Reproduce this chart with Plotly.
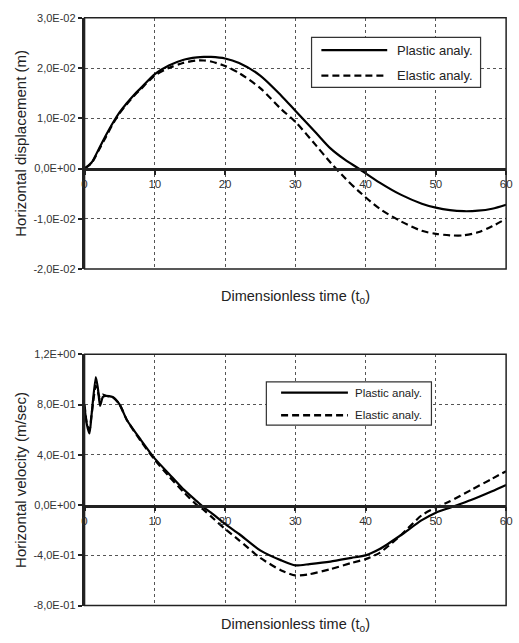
import plotly.graph_objects as go

# ---------------- data ----------------
t_disp = [0, 1, 2, 3, 4, 5, 6, 7, 8, 10, 12, 14, 16, 17, 18, 20, 22, 25, 28, 30,
          33, 35, 37, 39, 42, 45, 48, 50, 52, 54, 56, 58, 60]
disp_plastic = [0, 0.12, 0.38, 0.65, 0.9, 1.12, 1.3, 1.46, 1.6, 1.88, 2.05, 2.16, 2.21, 2.22,
                2.22, 2.19, 2.1, 1.85, 1.45, 1.15, 0.7, 0.4, 0.18, 0.0, -0.28, -0.52, -0.7,
                -0.78, -0.83, -0.85, -0.84, -0.8, -0.72]
disp_elastic = [0, 0.11, 0.36, 0.62, 0.88, 1.1, 1.28, 1.44, 1.58, 1.85, 2.0, 2.1, 2.15, 2.15,
                2.13, 2.04, 1.9, 1.6, 1.18, 0.93, 0.45, 0.12, -0.18, -0.45, -0.8, -1.05, -1.24,
                -1.3, -1.33, -1.33, -1.27, -1.15, -1.0]
disp_plastic = [v * 1e-2 for v in disp_plastic]
disp_elastic = [v * 1e-2 for v in disp_elastic]

t_vel = [0, 0.3, 0.7, 1.0, 1.6, 1.9, 2.2, 2.6, 3, 4, 5, 6, 8, 10, 12, 14, 16, 17, 18, 20,
         22, 25, 28, 30, 32, 35, 38, 40, 42, 45, 48, 50, 52, 55, 58, 60]
vel_plastic = [0.78, 0.65, 0.57, 0.72, 1.02, 0.93, 0.79, 0.86, 0.87, 0.86, 0.80, 0.68, 0.52,
               0.37, 0.25, 0.13, 0.03, -0.02, -0.06, -0.15, -0.23, -0.36, -0.44, -0.48, -0.47,
               -0.45, -0.42, -0.40, -0.35, -0.24, -0.12, -0.06, -0.02, 0.04, 0.11, 0.16]
vel_elastic = [0.80, 0.66, 0.60, 0.72, 0.95, 0.90, 0.85, 0.88, 0.87, 0.86, 0.80, 0.68, 0.51,
               0.36, 0.23, 0.11, 0.0, -0.04, -0.09, -0.19, -0.28, -0.42, -0.52, -0.56, -0.55,
               -0.51, -0.46, -0.43, -0.38, -0.24, -0.08, -0.02, 0.03, 0.12, 0.21, 0.27]

x_ticks = [0, 10, 20, 30, 40, 50, 60]
disp_ticks = [-0.02, -0.01, 0.0, 0.01, 0.02, 0.03]
disp_ticktext = ["-2,0E-02", "-1,0E-02", "0,0E+00", "1,0E-02", "2,0E-02", "3,0E-02"]
vel_ticks = [-0.8, -0.4, 0.0, 0.4, 0.8, 1.2]
vel_ticktext = ["-8,0E-01", "-4,0E-01", "0,0E+00", "4,0E-01", "8,0E-01", "1,2E+00"]

series_names = ["Plastic analy.", "Elastic analy."]
x_title = "Dimensionless time (t<sub>o</sub>)"
y_titles = ["Horizontal displacement (m)", "Horizontal velocity (m/sec)"]

# ---------------- figure ----------------
W, H = 519, 643
FONT = "Liberation Sans, Arial, sans-serif"
DASH = "7px,4px"
LW = 2.2


def px_x(p):
    return p / W


def px_y(p):
    return 1 - p / H


fig = go.Figure()

fig.add_trace(go.Scatter(x=t_disp, y=disp_plastic, name=series_names[0], mode="lines",
                         line=dict(color="black", width=LW, shape="spline", smoothing=0.8),
                         xaxis="x", yaxis="y", showlegend=False))
fig.add_trace(go.Scatter(x=t_disp, y=disp_elastic, name=series_names[1], mode="lines",
                         line=dict(color="black", width=LW, dash=DASH, shape="spline", smoothing=0.8),
                         xaxis="x", yaxis="y", showlegend=False))
fig.add_trace(go.Scatter(x=t_vel, y=vel_plastic, name=series_names[0], mode="lines",
                         line=dict(color="black", width=LW, shape="spline", smoothing=0.6),
                         xaxis="x2", yaxis="y2", showlegend=False))
fig.add_trace(go.Scatter(x=t_vel, y=vel_elastic, name=series_names[1], mode="lines",
                         line=dict(color="black", width=LW, dash=DASH, shape="spline", smoothing=0.6),
                         xaxis="x2", yaxis="y2", showlegend=False))

xdom = [px_x(83), px_x(512)]
top_dom = [px_y(268), px_y(12)]
bot_dom = [px_y(611), px_y(355)]

common_x = dict(range=[0, 60], tickvals=x_ticks, showgrid=True, gridcolor="#555",
                griddash="dot", gridwidth=1, showline=True, linecolor="#222", linewidth=2.5,
                ticks="outside", ticklen=4, tickwidth=2, tickcolor="#222",
                tickfont=dict(family=FONT, size=11.5, color="#333"), zeroline=False,
                domain=xdom, anchor="free", fixedrange=True)
common_y = dict(showgrid=True, gridcolor="#555", griddash="dot", gridwidth=1,
                showline=True, linecolor="#222", linewidth=2.5, ticks="outside", ticklen=4,
                tickwidth=2, tickcolor="#222", tickfont=dict(family=FONT, size=11, color="#333"),
                zeroline=False, fixedrange=True)

fig.update_layout(
    width=W, height=H, margin=dict(l=0, r=0, t=0, b=0),
    paper_bgcolor="white", plot_bgcolor="white", showlegend=False,
    font=dict(family=FONT, color="#222"),
    xaxis=dict(common_x, position=px_y(166)),
    yaxis=dict(common_y, domain=top_dom, range=[-0.02, 0.03], tickvals=disp_ticks,
               ticktext=disp_ticktext, anchor="x",
               title=dict(text=y_titles[0], font=dict(family=FONT, size=15, color="#222"),
                          standoff=4)),
    xaxis2=dict(common_x, position=px_y(509)),
    yaxis2=dict(common_y, domain=bot_dom, range=[-0.8, 1.2], tickvals=vel_ticks,
                ticktext=vel_ticktext, anchor="x2",
                title=dict(text=y_titles[1], font=dict(family=FONT, size=15, color="#222"),
                           standoff=4)),
)

# plot frame boxes
for xr, yr in [("x", "y"), ("x2", "y2")]:
    fig.add_shape(type="rect", xref=f"{xr} domain", yref=f"{yr} domain", x0=0, x1=1, y0=0, y1=1,
                  line=dict(color="#222", width=1.5), layer="above")

# x-axis titles below each plot
for ypix in (297, 631):
    fig.add_annotation(text=x_title, x=(xdom[0] + xdom[1]) / 2, y=px_y(ypix), xref="paper",
                       yref="paper", xanchor="center", yanchor="middle", showarrow=False,
                       font=dict(family=FONT, size=14.5, color="#222"))

# legend boxes (drawn as layout decorations)
legends = [
    dict(box=(314, 32, 486, 83), rows=(45, 71), line=(324, 391), text_x=399, size=13),
    dict(box=(268, 383, 436, 427), rows=(394, 417), line=(283, 351), text_x=356, size=11.5),
]
for lg in legends:
    x0, y0, x1, y1 = lg["box"]
    fig.add_shape(type="rect", xref="paper", yref="paper", x0=px_x(x0), x1=px_x(x1),
                  y0=px_y(y1), y1=px_y(y0), fillcolor="white",
                  line=dict(color="#333", width=1.2), layer="above")
    for i, row in enumerate(lg["rows"]):
        fig.add_shape(type="line", xref="paper", yref="paper",
                      x0=px_x(lg["line"][0]), x1=px_x(lg["line"][1]),
                      y0=px_y(row), y1=px_y(row), layer="above",
                      line=dict(color="black", width=2.4, dash="solid" if i == 0 else DASH))
        fig.add_annotation(text=series_names[i], x=px_x(lg["text_x"]), y=px_y(row),
                           xref="paper", yref="paper", xanchor="left", yanchor="middle",
                           showarrow=False, font=dict(family=FONT, size=lg["size"], color="#222"))

fig.write_html("out.html")
